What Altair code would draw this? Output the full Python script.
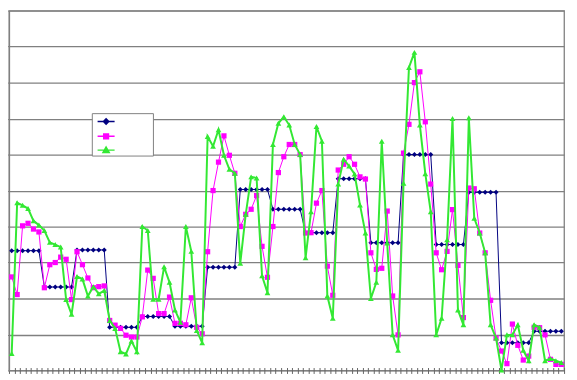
import altair as alt
import pandas as pd

series_names = ["Series1", "Series2", "Series3"]
series_colors = ["#000080", "#FF00FF", "#33E833"]

navy = [
    3.33, 3.33, 3.33, 3.33, 3.33, 3.33,
    2.32, 2.32, 2.32, 2.32, 2.32, 2.32,
    3.35, 3.35, 3.35, 3.35, 3.35, 3.35,
    1.20, 1.20, 1.20, 1.20, 1.20, 1.20,
    1.50, 1.50, 1.50, 1.50, 1.50, 1.50,
    1.23, 1.23, 1.23, 1.23, 1.23, 1.23,
    2.87, 2.87, 2.87, 2.87, 2.87, 2.87,
    5.03, 5.03, 5.03, 5.03, 5.03, 5.03,
    4.48, 4.48, 4.48, 4.48, 4.48, 4.48,
    3.83, 3.83, 3.83, 3.83, 3.83, 3.83,
    5.33, 5.33, 5.33, 5.33, 5.33, 5.33,
    3.55, 3.55, 3.55, 3.55, 3.55, 3.55,
    6.00, 6.00, 6.00, 6.00, 6.00, 6.00,
    3.50, 3.50, 3.50, 3.50, 3.50, 3.50,
    4.95, 4.95, 4.95, 4.95, 4.95, 4.95,
    0.77, 0.77, 0.77, 0.77, 0.77, 0.77,
    1.09, 1.09, 1.09, 1.09, 1.09, 1.09,
]

magenta = [
    2.60, 2.11, 4.02, 4.09, 3.93, 3.85,
    2.30, 2.94, 3.00, 3.15, 3.09, 1.97,
    3.30, 2.94, 2.57, 2.30, 2.33, 2.35,
    1.39, 1.26, 1.17, 0.98, 0.93, 0.93,
    1.49, 2.79, 2.56, 1.58, 1.58, 2.04,
    1.31, 1.31, 1.27, 2.02, 1.20, 1.02,
    3.30, 5.00, 5.79, 6.52, 5.98, 5.48,
    4.00, 4.34, 4.48, 4.86, 3.45, 2.59,
    4.00, 5.50, 5.94, 6.28, 6.28, 6.00,
    3.82, 3.83, 4.65, 5.00, 2.90, 2.09,
    5.57, 5.73, 5.94, 5.73, 5.38, 5.32,
    3.27, 2.81, 2.84, 4.43, 2.07, 0.99,
    6.04, 6.84, 8.00, 8.30, 6.91, 5.18,
    3.27, 2.80, 3.31, 4.47, 2.92, 1.47,
    5.07, 5.05, 3.82, 3.27, 1.95, 0.90,
    0.54, 0.19, 1.29, 0.70, 0.29, 0.40,
    1.20, 1.19, 0.99, 0.31, 0.17, 0.17,
]

green = [
    0.47, 4.66, 4.59, 4.50, 4.16, 4.04,
    3.89, 3.56, 3.50, 3.43, 1.97, 1.56,
    2.61, 2.54, 2.07, 2.33, 2.13, 2.22,
    1.39, 1.17, 0.52, 0.46, 0.82, 0.52,
    4.00, 3.89, 1.98, 1.98, 2.88, 2.45,
    1.68, 1.34, 4.00, 3.31, 1.11, 0.77,
    6.50, 6.23, 6.69, 5.98, 5.59, 5.48,
    2.98, 4.34, 5.38, 5.35, 2.63, 2.16,
    6.28, 6.87, 7.05, 6.82, 6.28, 6.00,
    3.13, 4.41, 6.78, 6.37, 2.07, 1.45,
    5.18, 5.87, 5.68, 5.46, 4.60, 3.82,
    2.00, 2.45, 6.37, 3.54, 0.99, 0.56,
    5.20, 8.42, 8.84, 6.82, 5.47, 4.41,
    0.99, 1.45, 3.63, 7.00, 1.68, 1.27,
    7.02, 4.23, 3.82, 3.27, 1.27, 0.90,
    0.01, 0.99, 0.99, 1.27, 0.56, 0.27,
    1.27, 1.20, 0.27, 0.33, 0.27, 0.22,
]

y_ticks = [0, 1, 2, 3, 4, 5, 6, 7, 8, 9, 10]

N = len(navy)
x_ticks = [i - 0.5 for i in range(N + 1)]

rows = []
for name, vals in zip(series_names, [navy, magenta, green]):
    for i, v in enumerate(vals):
        rows.append({"idx": i, "value": v, "series": name})
df = pd.DataFrame(rows)

grid_col = "#808080"

x_enc = alt.X(
    "idx:Q",
    scale=alt.Scale(domain=[-0.5, N - 0.5], nice=False, zero=False),
    axis=alt.Axis(values=x_ticks, labels=False, title=None, domain=False,
                  grid=False, tickSize=6, offset=-3, tickColor="#666666",
                  tickWidth=1),
)
y_enc = alt.Y(
    "value:Q",
    scale=alt.Scale(domain=[0, 10], nice=False, zero=True),
    axis=alt.Axis(values=y_ticks, labels=False, title=None, grid=True,
                  gridColor=grid_col, gridWidth=1.3, domainColor=grid_col,
                  domainWidth=1.3, tickColor=grid_col, tickSize=4),
)

base = alt.Chart(df).encode(x=x_enc, y=y_enc)

styles = [
    ("Series1", "#000080", 1.0, "diamond", 26),
    ("Series2", "#FF00FF", 1.0, "square", 28),
    ("Series3", "#33E833", 2.0, "triangle-up", 34),
]

layers = []
for name, col, lw, shp, sz in styles:
    sub = base.transform_filter(alt.datum.series == name)
    layers.append(sub.mark_line(color=col, strokeWidth=lw))
    layers.append(sub.mark_point(filled=True, shape=shp, size=sz, color=col,
                                 opacity=1, strokeWidth=0))

legend_paths = [
    "M-1.15,0H1.15M0,-0.36L0.36,0L0,0.36L-0.36,0Z",
    "M-1.15,0H1.15M-0.32,-0.32H0.32V0.32H-0.32Z",
    "M-1.15,0H1.15M0,-0.42L0.42,0.32H-0.42Z",
]

blank = "\u2800" * 5

leg = alt.Legend(
    orient="none", legendX=84, legendY=104, title=None,
    labelExpr="'" + blank + "'", labelFontSize=10, labelOffset=4,
    symbolSize=225, symbolStrokeWidth=1.5, symbolOpacity=1,
    symbolOffset=6, rowPadding=0, padding=0,
    strokeColor="#808080", fillColor="white",
)

legend_layer = base.transform_filter(alt.datum.idx == 0).mark_point(
    filled=True, opacity=0
).encode(
    color=alt.Color("series:N", scale=alt.Scale(domain=series_names, range=series_colors), legend=leg),
    stroke=alt.Stroke("series:N", scale=alt.Scale(domain=series_names, range=series_colors), legend=leg),
    shape=alt.Shape("series:N", scale=alt.Scale(domain=series_names, range=legend_paths), legend=leg),
)

chart = alt.layer(*layers, legend_layer).properties(
    width=563, height=365,
    autosize="none",
    padding={"left": 1, "top": 0, "right": 5, "bottom": 8},
    background="white",
).configure_view(stroke=grid_col, strokeWidth=1.3)

chart.save("out.html", embed_options={"renderer": "svg", "actions": False})
